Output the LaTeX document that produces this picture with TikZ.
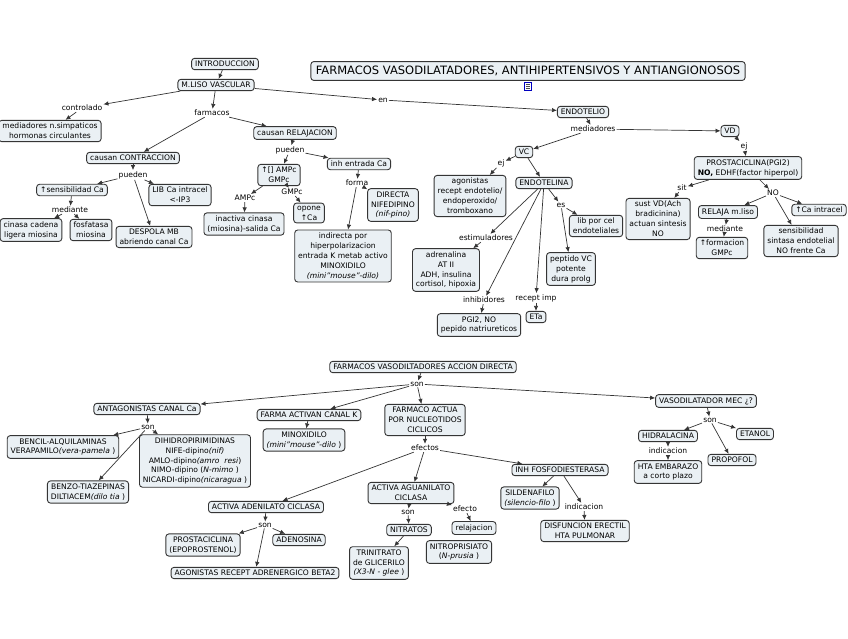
\documentclass[tikz,border=0pt]{standalone}
\usepackage{fontspec}
\setmainfont{DejaVu Sans}
\usetikzlibrary{arrows.meta}
\definecolor{cfill}{HTML}{EAF0F4}
\definecolor{cline}{HTML}{353535}
\tikzset{
 concept/.style={draw=cline, fill=cfill, rounded corners=3pt, line width=0.9pt, align=center,
   inner xsep=3.5pt, inner ysep=2.8pt, font=\fontsize{7.6}{9.9}\selectfont},
 lbl/.style={inner sep=1pt, font=\fontsize{7.6}{8.5}\selectfont},
 link/.style={draw=cline, line width=0.7pt},
 arr/.style={link, -{Latex[length=5pt,width=4.5pt]}},
}
\begin{document}
\begin{tikzpicture}[x=1pt,y=-1pt]
\useasboundingbox (0,0) rectangle (848,638);
\fill[white] (0,0) rectangle (848,638);

% ---------------- top part ----------------
\node[concept] (intro) at (225,64) {INTRODUCCION};
\node[concept] (mliso) at (216,85) {M.LISO VASCULAR};
\node[concept, font=\fontsize{11.5}{13}\selectfont, inner ysep=4.5pt, inner xsep=5pt] (title) at (528,71)
  {FARMACOS VASODILATADORES, ANTIHIPERTENSIVOS Y ANTIANGIONOSOS};
\node[draw=blue!75!black, fill=white, line width=0.6pt, minimum width=7pt, minimum height=8pt, inner sep=0pt] (icon) at (528,86) {};
\draw[black!70, line width=0.4pt] ([xshift=1.5pt,yshift=-2pt]icon.north west) -- ([xshift=-1.5pt,yshift=-2pt]icon.north east)
  ([xshift=1.5pt,yshift=-4pt]icon.north west) -- ([xshift=-1.5pt,yshift=-4pt]icon.north east)
  ([xshift=1.5pt,yshift=2pt]icon.south west) -- ([xshift=-1.5pt,yshift=2pt]icon.south east);

\node[lbl] (controlado) at (82,108) {controlado};
\node[concept] (medsimp) at (50,131) {mediadores n.simpaticos\\hormonas circulantes};
\node[lbl] (farmacos) at (212,113) {farmacos};
\node[concept] (relaj) at (295,133) {causan RELAJACION};
\node[concept] (contr) at (133,158) {causan CONTRACCION};
\node[lbl] (pueden1) at (133,175) {pueden};
\node[concept] (sens) at (72,190) {↑sensibilidad Ca};
\node[concept] (lib) at (180,195) {LIB Ca intracel\\<-IP3};
\node[lbl] (mediante1) at (70,210) {mediante};
\node[concept] (cinasa) at (31,230) {cinasa cadena\\ligera miosina};
\node[concept] (fosf) at (91,230) {fosfatasa\\miosina};
\node[concept] (despola) at (154,237) {DESPOLA MB\\abriendo canal Ca};

\node[lbl] (en) at (383,100) {en};
\node[concept] (endotelio) at (583,112) {ENDOTELIO};
\node[lbl] (mediadores) at (593,129) {mediadores};
\node[concept] (vd) at (730,131) {VD};

\node[lbl] (pueden2) at (290,150) {pueden};
\node[concept] (ampc) at (279,175) {↑[] AMPc\\GMPc};
\node[concept] (inh) at (359,164) {inh entrada Ca};
\node[lbl] (forma) at (357,183) {forma};
\node[lbl] (lampc) at (245,198) {AMPc};
\node[lbl] (lgmpc) at (292,192) {GMPc};
\node[concept] (inact) at (244,224) {inactiva cinasa\\(miosina)-salida Ca};
\node[concept] (opone) at (309,213) {opone\\↑Ca};
\node[concept] (directa) at (393,205) {DIRECTA\\NIFEDIPINO\\\textit{(nif-pino)}};
\node[concept] (indir) at (343,256) {indirecta por\\hiperpolarizacion\\entrada K metab activo\\MINOXIDILO\\\textit{(mini"mouse"-dilo)}};

\node[concept] (vc) at (524,152) {VC};
\node[lbl] (ej1) at (501,163) {ej};
\node[concept] (agon) at (470,196) {agonistas\\recept endotelio/\\endoperoxido/\\tromboxano};
\node[concept] (endotelina) at (544,183) {ENDOTELINA};
\node[lbl] (es) at (561,205) {es};
\node[concept] (libcel) at (596,226) {lib por cel\\endoteliales};
\node[lbl] (estim) at (486,238) {estimuladores};
\node[concept] (adren) at (446,270) {adrenalina\\AT II\\ADH, insulina\\cortisol, hipoxia};
\node[concept] (peptido) at (571,269) {peptido VC\\potente\\dura prolg};
\node[lbl] (inhib) at (484,300) {inhibidores};
\node[lbl] (recept) at (536,298) {recept imp};
\node[concept] (pgi2) at (479,325) {PGI2, NO\\pepido natriureticos};
\node[concept] (eta) at (536,317) {ETa};

\node[lbl] (ej2) at (744,146) {ej};
\node[concept] (prosta) at (748,168) {PROSTACICLINA(PGI2)\\\textbf{NO,} EDHF(factor hiperpol)};
\node[lbl] (sit) at (682,188) {sit};
\node[lbl] (lno) at (773,193) {NO};
\node[concept] (sust) at (658,219) {sust VD(Ach\\bradicinina)\\actuan sintesis\\NO};
\node[concept] (relaja) at (728,212) {RELAJA m.liso};
\node[concept] (caintra) at (819,210) {↑Ca intracel};
\node[lbl] (mediante2) at (725,229) {mediante};
\node[concept] (formac) at (722,248) {↑formacion\\GMPc};
\node[concept] (sensib) at (801,241) {sensibilidad\\sintasa endotelial\\NO frente Ca};

% ---------------- bottom part ----------------
\node[concept] (fvad) at (423,367) {FARMACOS VASODILTADORES ACCION DIRECTA};
\node[lbl] (son1) at (417,384) {son};
\node[concept] (antag) at (147,409) {ANTAGONISTAS CANAL Ca};
\node[concept] (farmak) at (309,415) {FARMA ACTIVAN CANAL K};
\node[concept] (factua) at (425,420) {FARMACO ACTUA\\POR NUCLEOTIDOS\\CICLICOS};
\node[concept] (vmec) at (706,401) {VASODILATADOR MEC ¿?};

\node[lbl] (son2) at (148,427) {son};
\node[concept] (bencil) at (63,447) {BENCIL-ALQUILAMINAS\\VERAPAMILO\textit{(vera-pamela} )};
\node[concept] (dihidro) at (195,461) {DIHIDROPIRIMIDINAS\\NIFE-dipino\textit{(nif)}\\AMLO-dipino\textit{(amro\ \ resi})\\NIMO-dipino (\textit{N-mimo} )\\NICARDI-dipino\textit{(nicaragua} )};
\node[concept] (benzo) at (88,492) {BENZO-TIAZEPINAS\\DILTIACEM\textit{(dilo tia} )};

\node[concept] (minox) at (304,440) {MINOXIDILO\\\textit{(mini"mouse"-dilo} )};
\node[lbl] (efectos) at (425,448) {efectos};
\node[concept] (inhfos) at (560,470) {INH FOSFODIESTERASA};

\node[lbl] (son3) at (710,420) {son};
\node[concept] (hidra) at (668,436) {HIDRALACINA};
\node[concept] (etanol) at (755,434) {ETANOL};
\node[concept] (propofol) at (732,460) {PROPOFOL};
\node[lbl] (indic1) at (668,451) {indicacion};
\node[concept] (htaemb) at (668,472) {HTA EMBARAZO\\a corto plazo};

\node[concept] (aac) at (266,507) {ACTIVA ADENILATO CICLASA};
\node[concept] (agc) at (411,493) {ACTIVA AGUANILATO\\CICLASA};
\node[concept] (silden) at (530,498) {SILDENAFILO\\\textit{(silencio-filo} )};
\node[lbl] (indic2) at (584,507) {indicacion};
\node[lbl] (efecto) at (465,509) {efecto};
\node[lbl] (son5) at (408,512) {son};
\node[lbl] (son4) at (265,525) {son};
\node[concept] (relajac) at (474,528) {relajacion};
\node[concept] (nitratos) at (409,530) {NITRATOS};
\node[concept] (disf) at (585,531) {DISFUNCION ERECTIL\\HTA PULMONAR};
\node[concept] (prostac2) at (203,545) {PROSTACICLINA\\(EPOPROSTENOL)};
\node[concept] (adenos) at (299,540) {ADENOSINA};
\node[concept] (trinit) at (379,563) {TRINITRATO\\de GLICERILO\\\textit{(X3-N - glee} )};
\node[concept] (nitrop) at (459,552) {NITROPRISIATO\\(\textit{N-prusia} )};
\node[concept] (agbeta) at (255,573) {AGONISTAS RECEPT ADRENERGICO BETA2};

% ---------------- connectors top ----------------
\draw[arr] (intro) -- (mliso);
\draw[arr] (mliso) -- (controlado);
\draw[arr] (controlado) -- (medsimp);
\draw[arr] (mliso) -- (farmacos);
\draw[arr] (farmacos) -- (relaj);
\draw[arr] (farmacos) -- (contr);
\draw[arr] (mliso) -- (en);
\draw[arr] (en) -- (endotelio);
\draw[arr] (contr) -- (pueden1);
\draw[arr] (pueden1) -- (sens);
\draw[arr] (pueden1) -- (lib);
\draw[arr] (pueden1) -- (despola);
\draw[arr] (sens) -- (mediante1);
\draw[arr] (mediante1) -- (cinasa);
\draw[arr] (mediante1) -- (fosf);
\draw[arr] (relaj) -- (pueden2);
\draw[arr] (pueden2) -- (ampc);
\draw[arr] (pueden2) -- (inh);
\draw[arr] (ampc) -- (lampc);
\draw[arr] (lampc) -- (inact);
\draw[arr] (ampc) -- (lgmpc);
\draw[arr] (lgmpc) -- (opone);
\draw[arr] (inh) -- (forma);
\draw[arr] (forma) -- (directa);
\draw[arr] (forma) -- (indir);
\draw[arr] (endotelio) -- (mediadores);
\draw[arr] (mediadores) -- (vd);
\draw[arr] (mediadores) -- (vc);
\draw[arr] (vc) -- (ej1);
\draw[arr] (ej1) -- (agon);
\draw[arr] (vc) -- (endotelina);
\draw[arr] (endotelina) -- (es);
\draw[arr] (es) -- (libcel);
\draw[arr] (es) -- (peptido);
\draw[arr] (endotelina) -- (estim);
\draw[arr] (estim) -- (adren);
\draw[arr] (endotelina) -- (inhib);
\draw[arr] (inhib) -- (pgi2);
\draw[arr] (endotelina) -- (recept);
\draw[arr] (recept) -- (eta);
\draw[arr] (vd) -- (ej2);
\draw[arr] (ej2) -- (prosta);
\draw[arr] (prosta) -- (sit);
\draw[arr] (sit) -- (sust);
\draw[arr] (prosta) -- (lno);
\draw[arr] (lno) -- (relaja);
\draw[arr] (lno) -- (caintra);
\draw[arr] (lno) -- (sensib);
\draw[arr] (relaja) -- (mediante2);
\draw[arr] (mediante2) -- (formac);

% ---------------- connectors bottom ----------------
\draw[arr] (fvad) -- (son1);
\draw[arr] (son1) -- (antag);
\draw[arr] (son1) -- (farmak);
\draw[arr] (son1) -- (factua);
\draw[arr] (son1) -- (vmec);
\draw[arr] (antag) -- (son2);
\draw[arr] (son2) -- (bencil);
\draw[arr] (son2) -- (dihidro);
\draw[arr] (son2) -- (benzo);
\draw[arr] (farmak) -- (minox);
\draw[arr] (factua) -- (efectos);
\draw[arr] (efectos) -- (inhfos);
\draw[arr] (efectos) -- (agc);
\draw[arr] (efectos) -- (aac);
\draw[arr] (vmec) -- (son3);
\draw[arr] (son3) -- (hidra);
\draw[arr] (son3) -- (etanol);
\draw[arr] (son3) -- (propofol);
\draw[arr] (hidra) -- (indic1);
\draw[arr] (indic1) -- (htaemb);
\draw[arr] (inhfos) -- (silden);
\draw[arr] (inhfos) -- (indic2);
\draw[arr] (indic2) -- (disf);
\draw[arr] (aac) -- (son4);
\draw[arr] (son4) -- (prostac2);
\draw[arr] (son4) -- (adenos);
\draw[arr] (son4) -- (agbeta);
\draw[arr] (agc) -- (son5);
\draw[arr] (son5) -- (nitratos);
\draw[arr] (agc) -- (efecto);
\draw[arr] (efecto) -- (relajac);
\draw[arr] (nitratos) -- (trinit);
\end{tikzpicture}
\end{document}
